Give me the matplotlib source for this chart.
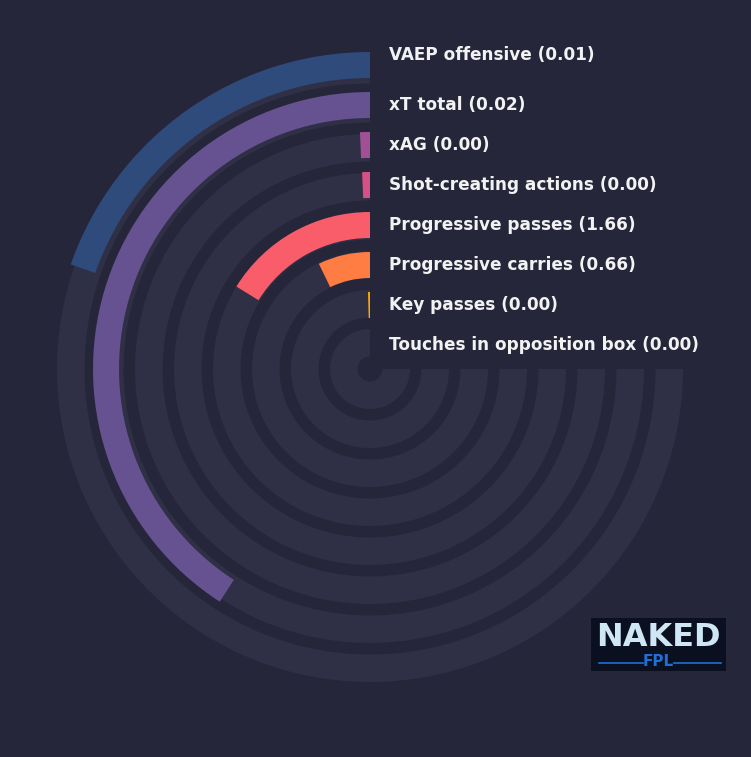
import numpy as np
import matplotlib
matplotlib.use("Agg")
import matplotlib.pyplot as plt

# metrics, outer ring first
metrics = ["VAEP offensive", "xT total", "xAG", "Shot-creating actions",
           "Progressive passes", "Progressive carries", "Key passes",
           "Touches in opposition box"]
values = [0.01, 0.02, 0.00, 0.00, 1.66, 0.66, 0.00, 0.00]
# share of the 270 degree track each bar fills
fill = [0.262, 0.545, 0.009, 0.0085, 0.216, 0.096, 0.0055, 0.002]
colors = ["#2f4b7c", "#665191", "#a05195", "#d45087",
          "#f95d6a", "#ff7c43", "#ffa600", "#003f5c"]

BG = "#25263a"
TRACK = "#2f3045"
W, H = 751, 757
CX, CY = 370, 369      # centre in pixels (from top)
R = 320                # radius of polar axes in pixels
SPAN = 1.5 * np.pi

fig = plt.figure(figsize=(W / 100, H / 100), dpi=100, facecolor=BG)
ax = fig.add_axes([(CX - R) / W, (H - CY - R) / H, 2 * R / W, 2 * R / H],
                  projection="polar")
ax.set_facecolor("none")
ax.set_theta_zero_location("N")
ax.set_theta_direction(1)
ax.set_ylim(0, R)
ax.axis("off")

n = len(metrics)
for i in range(n):
    # background track
    t_out = 313 - 39 * i
    ax.bar(0, 27.5, width=SPAN, bottom=t_out - 27.5, align="edge",
           color=TRACK, linewidth=0)
for i in range(n):
    b_out = 317 - 40 * i
    ax.bar(0, 26, width=fill[i] * SPAN, bottom=b_out - 26, align="edge",
           color=colors[i], linewidth=0)

# labels
for i in range(n):
    y = CY - (317 - 40 * i - 13)
    if i == 0:
        y -= 10
    fig.text(389 / W, 1 - y / H, f"{metrics[i]} ({values[i]:.2f})",
             color="#f2f2f2", fontsize=12.2, fontweight="bold",
             ha="left", va="center", family="DejaVu Sans")

# logo
lg = fig.add_axes([591 / W, (H - 671) / H, 135 / W, 53 / H])
lg.set_facecolor("#0b1020")
lg.set_xlim(0, 135)
lg.set_ylim(53, 0)
lg.set_xticks([])
lg.set_yticks([])
for s in lg.spines.values():
    s.set_visible(False)
lg.text(67, 19, "NAKED", color="#cfe6f5", fontsize=23, fontweight="bold",
        ha="center", va="center")
lg.text(67, 44, "FPL", color="#1f6fd6", fontsize=11, fontweight="bold",
        ha="center", va="center")
lg.plot([8, 52], [45, 45], color="#1f6fd6", lw=1.2)
lg.plot([83, 130], [45, 45], color="#1f6fd6", lw=1.2)

fig.savefig("out.png", dpi=100, facecolor=BG)
